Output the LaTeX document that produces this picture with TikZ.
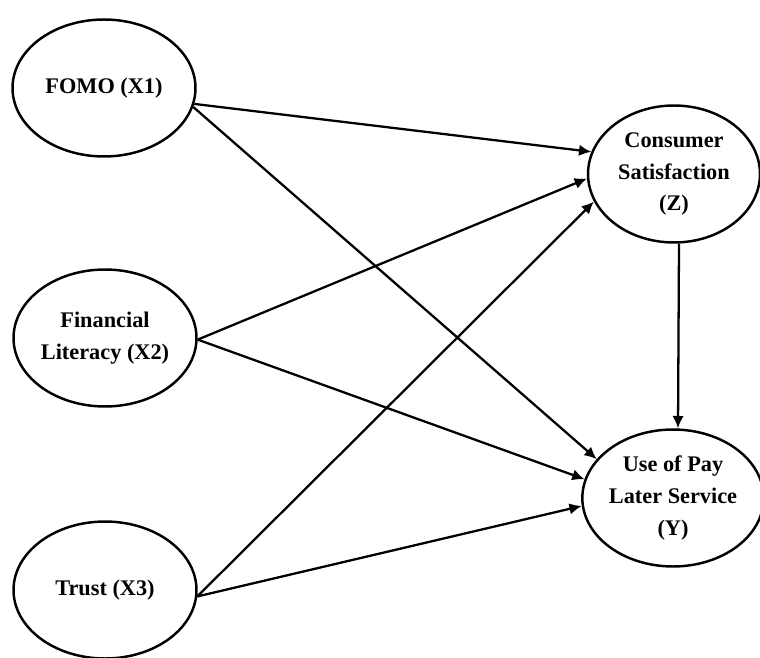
\documentclass[tikz,border=0pt]{standalone}
\usepackage{fontspec}
\setmainfont{Liberation Serif}
\usetikzlibrary{arrows.meta,shapes.geometric}
\begin{document}
\begin{tikzpicture}[x=0.02cm,y=-0.02cm,
  var/.style={ellipse,draw,line width=1.4pt,inner sep=0pt,align=center,
    font=\fontsize{12.7}{18}\selectfont\bfseries},
  leftvar/.style={var,minimum width=3.66cm,minimum height=2.74cm},
  rightvar/.style={var,minimum width=3.44cm,minimum height=2.74cm},
  arr/.style={line width=1.3pt,-{Latex[length=7pt,width=6.5pt]}}]
\useasboundingbox[fill=white] (0,0) rectangle (760,658);
\node[leftvar] (x1) at (104,88) {FOMO (X1)};
\node[leftvar] (x2) at (105,338) {Financial\\Literacy (X2)};
\node[leftvar] (x3) at (105,590) {Trust (X3)};
\node[rightvar] (z) at (674,174) {Consumer\\Satisfaction\\(Z)};
\node[rightvar] (y) at (673,498) {Use of Pay\\Later Service\\(Y)};
\draw[arr] (x1.-10) -- (z.165);
\draw[arr] (x1.-12) -- (y.153);
\draw[arr] (x2.-1) -- (z.183);
\draw[arr] (x2.-1) -- (y.168);
\draw[arr] (x3.-4) -- (z.199);
\draw[arr] (x3.-4) -- (y.185);
\draw[arr] ([xshift=0.1cm]z.south) -- ([xshift=0.1cm]y.north);
\end{tikzpicture}
\end{document}
